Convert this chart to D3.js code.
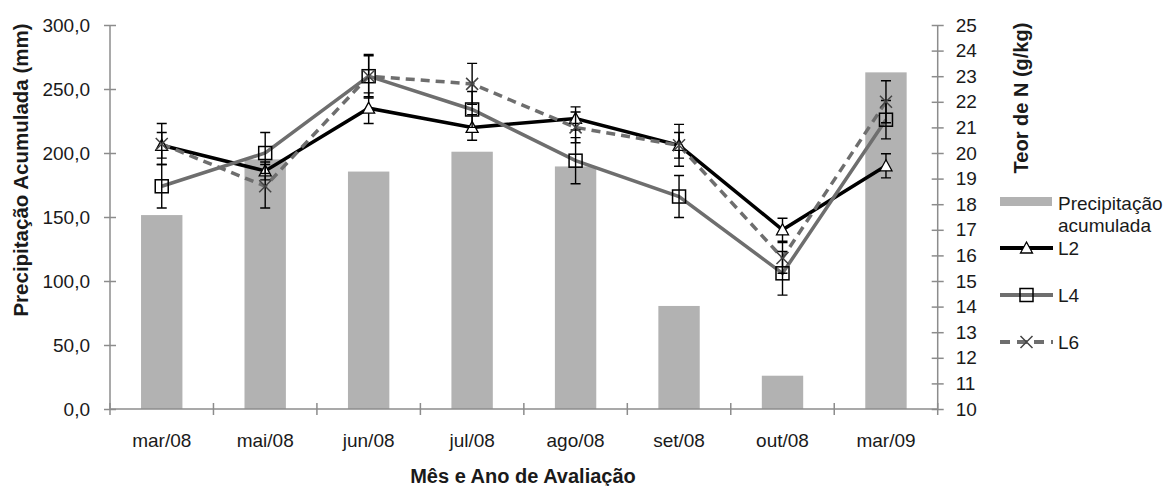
<!DOCTYPE html>
<html>
<head>
<meta charset="utf-8">
<script src="https://cdn.jsdelivr.net/npm/d3@7"></script>
<style>
  body { margin: 0; background: #fff; }
  text { font-family: "Liberation Sans", Arial, sans-serif; fill: #1a1a1a; }
</style>
</head>
<body>
<svg id="chart" width="1173" height="486"></svg>
<script>
const categories = ['mar/08', 'mai/08', 'jun/08', 'jul/08', 'ago/08', 'set/08', 'out/08', 'mar/09']
const precipitacao = [151.5, 195, 185.5, 201, 189.5, 80.5, 26, 263]
const L2 = [20.3, 19.3, 21.75, 21.0, 21.35, 20.3, 17.0, 19.5]
const L4 = [18.7, 20.0, 23.0, 21.7, 19.7, 18.3, 15.3, 21.3]
const L6 = [20.35, 18.7, 23.0, 22.7, 21.0, 20.3, 15.9, 22.0]
const errL2 = [0.5, 0.35, 0.6, 0.5, 0.45, 0.5, 0.45, 0.47]
const errL4 = [0.85, 0.8, 0.8, 0.7, 0.9, 0.82, 0.85, 0.75]
const errL6 = [0.8, 0.85, 0.85, 0.8, 0.6, 0.82, 0.6, 0.82]
const leftTicks = [0, 50, 100, 150, 200, 250, 300]
const rightTicks = d3.range(10, 26)

const svg = d3.select('#chart')
const plotLeft = 110, plotRight = 937.7, plotTop = 25, plotBottom = 409
const axisColor = '#8c8c8c'

const x = d3.scaleBand().domain(categories).range([plotLeft, plotRight])
const yL = d3.scaleLinear().domain([0, 300]).range([plotBottom, plotTop])
const yR = d3.scaleLinear().domain([10, 25]).range([plotBottom, plotTop])
const cx = (d, i) => x(categories[i]) + x.bandwidth() / 2

const ptBR = d3.formatLocale({ decimal: ',', thousands: '.', grouping: [3], currency: ['R$', ''] })

// bars
const barW = x.bandwidth() * 0.4
svg.append('g').selectAll('rect')
    .data(precipitacao)
    .enter().append('rect')
    .attr('x', (d, i) => cx(d, i) - barW / 2)
    .attr('y', d => yL(d))
    .attr('width', barW)
    .attr('height', d => plotBottom - yL(d))
    .attr('fill', '#b2b2b2')

// axes
let gL = svg.append('g')
    .attr('transform', 'translate(' + plotLeft + ',0)')
    .call(d3.axisLeft(yL).tickValues(leftTicks).tickSize(6).tickPadding(14).tickFormat(ptBR.format('.1f')))
let gR = svg.append('g')
    .attr('transform', 'translate(' + plotRight + ',0)')
    .call(d3.axisRight(yR).tickValues(rightTicks).tickSize(6).tickPadding(12))
let gX = svg.append('g')
    .attr('transform', 'translate(0,' + plotBottom + ')')
    .call(d3.axisBottom(x).tickSize(0).tickPadding(25))

gL.selectAll('.tick line').attr('x1', 6)
gR.selectAll('.tick line').attr('x1', -6)
gX.selectAll('.tick line').remove()
gX.selectAll('.domain').remove()
for (let g of [gL, gR]) {
    g.select('.domain').attr('d', 'M0,' + plotTop + 'V' + plotBottom)
}
for (let g of [gL, gR, gX]) {
    g.selectAll('path, line').attr('stroke', axisColor).attr('stroke-width', 1.5)
    g.selectAll('text').attr('font-size', 19).attr('fill', '#1a1a1a')
        .style('font-family', '"Liberation Sans", Arial, sans-serif')
}

svg.append('line')
    .attr('x1', plotLeft).attr('x2', plotRight).attr('y1', plotBottom).attr('y2', plotBottom)
    .attr('stroke', axisColor).attr('stroke-width', 1.5)
svg.append('g').selectAll('line')
    .data(d3.range(categories.length + 1))
    .enter().append('line')
    .attr('x1', i => plotLeft + i * x.bandwidth())
    .attr('x2', i => plotLeft + i * x.bandwidth())
    .attr('y1', plotBottom - 6).attr('y2', plotBottom + 6)
    .attr('stroke', axisColor).attr('stroke-width', 1.5)

// series
const series = [
    { name: 'L2', values: L2, err: errL2, color: '#000', dash: null, marker: 'triangle' },
    { name: 'L4', values: L4, err: errL4, color: '#6e6e6e', dash: null, marker: 'square' },
    { name: 'L6', values: L6, err: errL6, color: '#6e6e6e', dash: '9,6', marker: 'x' }
]

const line = d3.line().x(cx).y(d => yR(d))

function drawMarker(g, type) {
    if (type === 'triangle') {
        g.append('path').attr('d', 'M0,-6L6,5L-6,5Z')
            .attr('fill', '#fff').attr('stroke', '#000').attr('stroke-width', 1.3)
    } else if (type === 'square') {
        g.append('rect').attr('x', -6.5).attr('y', -6.5).attr('width', 13).attr('height', 13)
            .attr('fill', 'none').attr('stroke', '#000').attr('stroke-width', 1.5)
    } else {
        g.append('path').attr('d', 'M-6,-6L6,6M-6,6L6,-6')
            .attr('stroke', '#444').attr('stroke-width', 1.5)
    }
}

series.forEach(s => {
    svg.append('path')
        .datum(s.values)
        .attr('d', line)
        .attr('fill', 'none')
        .attr('stroke', s.color)
        .attr('stroke-width', 3.5)
        .attr('stroke-dasharray', s.dash)
})

series.forEach(s => {
    let eb = svg.append('g').selectAll('g')
        .data(s.values)
        .enter().append('g')
        .attr('transform', (d, i) => 'translate(' + cx(d, i) + ',0)')
    eb.append('path')
        .attr('d', (d, i) => {
            let y1 = yR(d - s.err[i]), y2 = yR(d + s.err[i])
            return 'M0,' + y1 + 'V' + y2 + 'M-5,' + y1 + 'H5M-5,' + y2 + 'H5'
        })
        .attr('stroke', '#000').attr('stroke-width', 1.4).attr('fill', 'none')

    svg.append('g').selectAll('g')
        .data(s.values)
        .enter().append('g')
        .attr('transform', (d, i) => 'translate(' + cx(d, i) + ',' + yR(d) + ')')
        .each(function () { drawMarker(d3.select(this), s.marker) })
})

// titles
svg.append('text')
    .attr('transform', 'translate(28,170) rotate(-90)')
    .attr('text-anchor', 'middle')
    .attr('font-size', 20.5).attr('font-weight', 'bold')
    .text('Precipitação Acumulada (mm)')
svg.append('text')
    .attr('transform', 'translate(1028,98) rotate(-90)')
    .attr('text-anchor', 'middle')
    .attr('font-size', 20).attr('font-weight', 'bold')
    .text('Teor de N (g/kg)')
svg.append('text')
    .attr('x', 523).attr('y', 483)
    .attr('text-anchor', 'middle')
    .attr('font-size', 20).attr('font-weight', 'bold')
    .text('Mês e Ano de Avaliação')

// legend
const lx = 1000, tx = 1058
svg.append('rect')
    .attr('x', lx).attr('y', 197).attr('width', 52).attr('height', 9)
    .attr('fill', '#b2b2b2')
svg.append('text').attr('x', tx).attr('y', 210).attr('font-size', 19).text('Precipitação')
svg.append('text').attr('x', tx).attr('y', 232).attr('font-size', 19).text('acumulada')

let legendItem = svg.append('g').selectAll('g')
    .data(series)
    .enter().append('g')
    .attr('transform', (d, i) => 'translate(0,' + (248 + i * 47) + ')')
legendItem.append('line')
    .attr('x1', lx).attr('x2', lx + 53)
    .attr('stroke', d => d.color)
    .attr('stroke-width', 4)
    .attr('stroke-dasharray', d => d.dash ? '10,7' : null)
legendItem.append('g')
    .attr('transform', 'translate(' + (lx + 26.5) + ',0)')
    .each(function (d) { drawMarker(d3.select(this), d.marker) })
legendItem.append('text')
    .attr('x', tx).attr('y', 7)
    .attr('font-size', 19)
    .text(d => d.name)
</script>
</body>
</html>
